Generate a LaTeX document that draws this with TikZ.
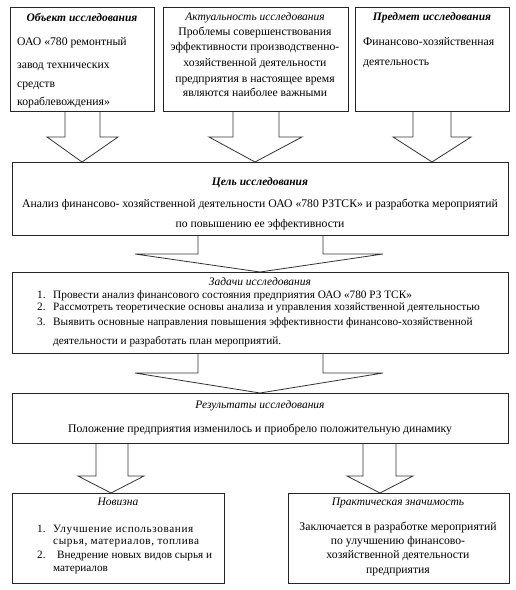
\documentclass[tikz,border=0pt]{standalone}
\usepackage{fontspec}
\setmainfont{Liberation Serif}
\usetikzlibrary{shadows}
\newcommand{\barrow}[8]{%
  \draw[blockarr] (#2,0 |- #1.south) -- (#2,#6) -- (#4,#6) -- (#7,0 |- #8.north) -- (#5,#6) -- (#3,#6) -- (#3,0 |- #1.south);}
\begin{document}
\begin{tikzpicture}[x=1pt,y=-1pt,
  box/.style={draw=black!85, line width=0.7pt, fill=white, inner sep=0pt, anchor=north west,
    general shadow={shadow xshift=1.1pt, shadow yshift=-1.1pt, fill=black!70}},
  blockarr/.style={draw=black!80, line width=0.8pt, line join=miter},
  txt/.style={inner sep=0pt, font=\fontsize{11.7}{13}\selectfont},
  stxt/.style={inner sep=0pt, font=\fontsize{11.3}{12}\selectfont},
  ntxt/.style={inner sep=0pt, font=\fontsize{11.2}{12}\selectfont},
  ttl/.style={inner sep=0pt, font=\fontsize{11.5}{13}\selectfont\itshape},
  bttl/.style={inner sep=0pt, font=\fontsize{11.5}{13}\selectfont\bfseries\itshape}]
\useasboundingbox (0,0) rectangle (515,590);
% boxes
\node[box, minimum width=144pt, minimum height=104pt] (b1) at (10,7) {};
\node[box, minimum width=185pt, minimum height=104pt] (b2) at (163,7) {};
\node[box, minimum width=154pt, minimum height=104pt] (b3) at (355,7) {};
\node[box, minimum width=496pt, minimum height=73pt] (goal) at (12,162) {};
\node[box, minimum width=496pt, minimum height=81pt] (tasks) at (12,272) {};
\node[box, minimum width=496pt, minimum height=50pt] (res) at (12,393) {};
\node[box, minimum width=212pt, minimum height=90pt] (nov) at (12,493) {};
\node[box, minimum width=221pt, minimum height=90pt] (prac) at (288,493) {};
% block arrows
\barrow{b1}{65}{100}{47}{118}{137}{82}{goal}
\barrow{b2}{233}{279}{209}{302}{137}{255}{goal}
\barrow{b3}{413}{451}{393}{471}{137}{432}{goal}
\barrow{goal}{198}{323}{135}{383}{254}{260}{tasks}
\barrow{tasks}{198}{323}{135}{383}{373}{260}{res}
\barrow{res}{96}{128}{78}{144}{476}{111}{nov}
\barrow{res}{363}{396}{347}{413}{476}{380}{prac}
% box 1
\node[bttl, anchor=mid] (b1t) at (82,19) {Объект исследования};
\node[txt, anchor=mid west] (b1a) at (17,43) {ОАО «780 ремонтный};
\node[txt, anchor=mid west] (b1b) at (17,66) {завод технических};
\node[txt, anchor=mid west] (b1c) at (17,85) {средств};
\node[txt, anchor=mid west] (b1d) at (17,103) {кораблевождения»};
% box 2
\node[ttl, anchor=mid] (b2t) at (255,18) {Актуальность исследования};
\node[txt, anchor=mid] (b2a) at (255,33) {Проблемы совершенствования};
\node[txt, anchor=mid] (b2b) at (255,48) {эффективности производственно-};
\node[txt, anchor=mid] (b2c) at (255,64) {хозяйственной деятельности};
\node[txt, anchor=mid] (b2d) at (255,80) {предприятия в настоящее время};
\node[txt, anchor=mid] (b2e) at (255,94) {являются наиболее важными};
% box 3
\node[bttl, anchor=mid] (b3t) at (432,18) {Предмет исследования};
\node[txt, anchor=mid west] (b3a) at (363,43) {Финансово-хозяйственная};
\node[txt, anchor=mid west] (b3b) at (363,63) {деятельность};
% goal
\node[bttl, anchor=mid] (gt) at (260,183) {Цель исследования};
\node[txt, anchor=mid] (ga) at (260,205) {Анализ финансово- хозяйственной деятельности ОАО «780 РЗТСК» и разработка мероприятий};
\node[txt, anchor=mid] (gb) at (260,225) {по повышению ее эффективности};
% tasks
\node[ttl, anchor=mid] (tt) at (260,283) {Задачи исследования};
\node[stxt, anchor=mid west] (tn1) at (37,296) {1.};
\node[stxt, anchor=mid west] (ta) at (53,296) {Провести анализ финансового состояния предприятия ОАО «780 РЗ ТСК»};
\node[stxt, anchor=mid west] (tn2) at (37,308) {2.};
\node[stxt, anchor=mid west] (tb) at (53,308) {Рассмотреть теоретические основы анализа и управления хозяйственной деятельностью};
\node[stxt, anchor=mid west] (tn3) at (37,323) {3.};
\node[stxt, anchor=mid west] (tc) at (53,323) {Выявить основные направления повышения эффективности финансово-хозяйственной};
\node[stxt, anchor=mid west] (td) at (53,342) {деятельности и разработать план мероприятий.};
% results
\node[ttl, anchor=mid] (rt) at (260,406) {Результаты исследования};
\node[txt, anchor=mid] (ra) at (260,430) {Положение предприятия изменилось и приобрело положительную динамику};
% novelty
\node[ttl, anchor=mid] (nt) at (118,503) {Новизна};
\node[ntxt, anchor=mid west] (nn1) at (37,530) {1.};
\node[ntxt, anchor=mid west] (na) at (53,530) {\addfontfeature{LetterSpace=5.5}Улучшение использования};
\node[ntxt, anchor=mid west] (nb) at (53,542) {\addfontfeature{LetterSpace=5.3}сырья, материалов, топлива};
\node[ntxt, anchor=mid west] (nn2) at (37,556) {2.};
\node[ntxt, anchor=mid west] (nc) at (57,556) {Внедрение новых видов сырья и};
\node[ntxt, anchor=mid west] (nd) at (53,569) {материалов};
% practical
\node[ttl, anchor=mid] (pt) at (398,503) {Практическая значимость};
\node[txt, anchor=mid] (pa) at (398,528) {Заключается в разработке мероприятий};
\node[txt, anchor=mid] (pb) at (398,542) {по улучшению финансово-};
\node[txt, anchor=mid] (pc) at (398,556) {хозяйственной деятельности};
\node[txt, anchor=mid] (pd) at (398,571) {предприятия};
\end{tikzpicture}
\end{document}
